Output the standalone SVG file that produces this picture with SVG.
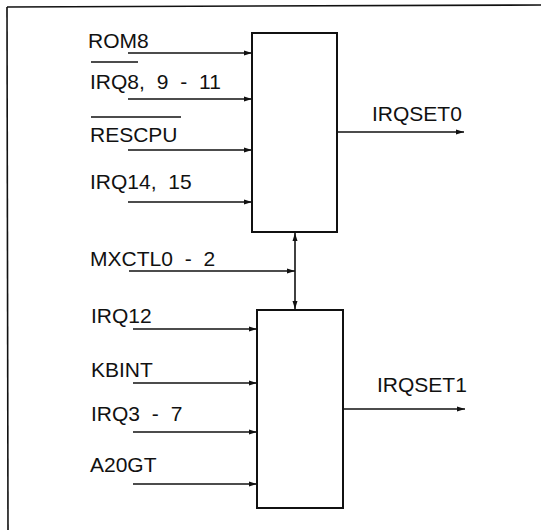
<svg xmlns="http://www.w3.org/2000/svg" width="541" height="530" viewBox="0 0 541 530">
<style>
text{font-family:"Liberation Sans",Arial,sans-serif;font-size:21px;fill:#111;word-spacing:6px}
.box{fill:#fff;stroke:#111;stroke-width:2}
.ln{stroke:#111;stroke-width:1.6;fill:none}
.ov{stroke:#111;stroke-width:1.4}
</style>
<defs>
<marker id="ah" markerUnits="userSpaceOnUse" markerWidth="8" markerHeight="6" refX="8" refY="3" orient="auto">
<path d="M0,0.5 L8,3 L0,5.5 Z" fill="#111"/>
</marker>
</defs>
<g id="frame">
<line class="ln" x1="7" y1="7" x2="541" y2="5"/>
<line class="ln" x1="7" y1="7" x2="8" y2="530"/>
</g>
<g id="connectors">
<line class="ln" x1="128" y1="53" x2="252" y2="53" marker-end="url(#ah)"/>
<line class="ln" x1="128" y1="99" x2="252" y2="99" marker-end="url(#ah)"/>
<line class="ln" x1="128" y1="150" x2="252" y2="150" marker-end="url(#ah)"/>
<line class="ln" x1="128" y1="202" x2="252" y2="202" marker-end="url(#ah)"/>
<line class="ln" x1="337" y1="132" x2="464" y2="132" marker-end="url(#ah)"/>
<line class="ln" x1="129" y1="271" x2="295" y2="271" marker-end="url(#ah)"/>
<line class="ln" x1="295" y1="271" x2="295" y2="233" marker-end="url(#ah)"/>
<line class="ln" x1="295" y1="271" x2="295" y2="309" marker-end="url(#ah)"/>
<line class="ln" x1="133" y1="329" x2="257" y2="329" marker-end="url(#ah)"/>
<line class="ln" x1="133" y1="383" x2="257" y2="383" marker-end="url(#ah)"/>
<line class="ln" x1="133" y1="432" x2="257" y2="432" marker-end="url(#ah)"/>
<line class="ln" x1="133" y1="484" x2="257" y2="484" marker-end="url(#ah)"/>
<line class="ln" x1="343" y1="409" x2="465" y2="409" marker-end="url(#ah)"/>
</g>
<g id="box0">
<rect class="box" x="252" y="33" width="85" height="199"/>
</g>
<g id="box1">
<rect class="box" x="257" y="310" width="86" height="198"/>
</g>
<g id="labels">
<text x="88" y="48">ROM8</text>
<text x="90" y="89">IRQ8, 9 - 11</text>
<line class="ov" x1="91" y1="62" x2="138" y2="62"/>
<text x="90" y="142">RESCPU</text>
<line class="ov" x1="91" y1="117" x2="181" y2="117"/>
<text x="90" y="189">IRQ14, 15</text>
<text x="372" y="121">IRQSET0</text>
<text x="90" y="266">MXCTL0 - 2</text>
<text x="91" y="323">IRQ12</text>
<text x="91" y="377">KBINT</text>
<text x="91" y="421">IRQ3 - 7</text>
<text x="90" y="472">A20GT</text>
<text x="377" y="392">IRQSET1</text>
</g>
</svg>
